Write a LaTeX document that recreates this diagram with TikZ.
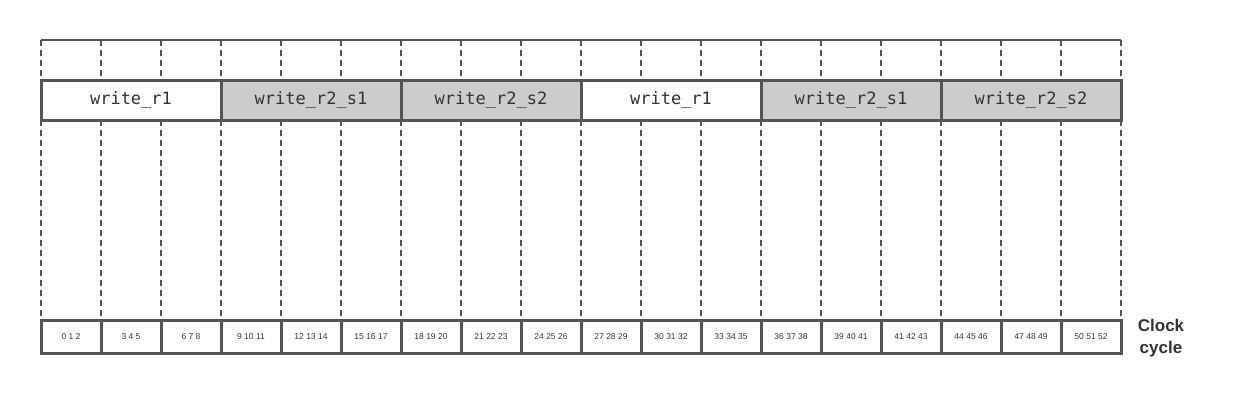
\documentclass[tikz,border=0pt]{standalone}
\usepackage{fontspec}
\setmainfont{Liberation Sans}
\newfontfamily\monofont{DejaVu Sans Mono}
\definecolor{linegray}{HTML}{555555}
\definecolor{fillgray}{HTML}{CCCCCC}
\definecolor{textgray}{HTML}{333333}
\begin{document}
\begin{tikzpicture}[x=1pt,y=-1pt,
  gridline/.style={draw=linegray,line width=2pt,dash pattern=on 6pt off 4pt},
  topline/.style={draw=linegray,line width=2pt},
  phasebox/.style={draw=linegray,line width=3pt,rectangle,inner sep=0pt,outer sep=0pt,
    minimum width=180pt,minimum height=40pt,anchor=north west,text=textgray,
    font=\monofont\fontsize{17}{20}\selectfont},
  lightbox/.style={phasebox,fill=white},
  darkbox/.style={phasebox,fill=fillgray},
  cyclebox/.style={draw=linegray,line width=3pt,rectangle,inner sep=0pt,outer sep=0pt,
    fill=white,minimum width=60pt,minimum height=33pt,anchor=north west,text=textgray,
    font=\fontsize{8.5}{10}\selectfont},
  axislabel/.style={text=textgray,align=center,font=\bfseries\fontsize{17}{21.5}\selectfont}
]
\useasboundingbox (0,0) rectangle (1241,400);
% grid coordinates
\foreach \k in {0,...,18}{
  \coordinate (t\k) at ({41+60*\k},40);
  \coordinate (b\k) at ({41+60*\k},320);
}
\foreach \k in {0,...,18}{
  \draw[gridline] (t\k) -- (b\k);
}
\draw[topline] (t0) -- (t18);
% phase boxes
\node[lightbox] (p1) at (41,80) {write\_r1};
\node[darkbox]  (p2) at (221,80) {write\_r2\_s1};
\node[darkbox]  (p3) at (401,80) {write\_r2\_s2};
\node[lightbox] (p4) at (581,80) {write\_r1};
\node[darkbox]  (p5) at (761,80) {write\_r2\_s1};
\node[darkbox]  (p6) at (941,80) {write\_r2\_s2};
% cycle boxes
\foreach \lbl [count=\k from 0] in {0 1 2,3 4 5,6 7 8,9 10 11,12 13 14,15 16 17,
  18 19 20,21 22 23,24 25 26,27 28 29,30 31 32,33 34 35,36 37 38,39 40 41,
  41 42 43,44 45 46,47 48 49,50 51 52}{
  \node[cyclebox] (c\k) at ({41+60*\k},320) {\lbl};
}
\node[axislabel] (clk) at (1161,338) {Clock\\cycle};
\end{tikzpicture}
\end{document}
